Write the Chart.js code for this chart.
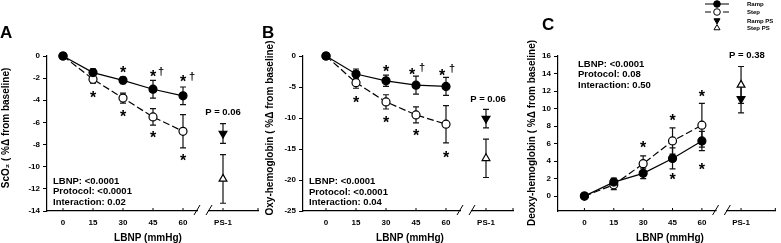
<!DOCTYPE html>
<html><head><meta charset="utf-8">
<script src="https://cdn.jsdelivr.net/npm/chart.js@4.4.0/dist/chart.umd.min.js"></script>
<style>
html,body{margin:0;padding:0;background:#fff;width:781px;height:243px;overflow:hidden}
canvas{position:absolute;left:0;top:0}
</style></head><body>
<canvas id="cA" width="781" height="243"></canvas>
<canvas id="cB" width="781" height="243"></canvas>
<canvas id="cC" width="781" height="243"></canvas>
<script>
// ---------- data ----------
const lbnpLevels = [0, 15, 30, 45, 60];
const psLevel = 80;
const xTickValues = [0, 15, 30, 45, 60, 80];
const xTickLabels = ['0', '15', '30', '45', '60', 'PS-1'];

// Panel A: ScO2
const scoTicks = [0, -2, -4, -6, -8, -10, -12, -14];
const scoRamp = [0, -1.5, -2.2, -3.0, -3.6];
const scoRampErr = [0, 0.35, 0.3, 0.8, 0.8];
const scoStep = [0, -2.1, -3.8, -5.5, -6.8];
const scoStepErr = [0, 0.35, 0.45, 0.75, 1.5];
const scoRampPS = [-7.0];
const scoRampPSErr = [0.9];
const scoStepPS = [-11.1];
const scoStepPSErr = [2.2];
const scoStats = ['LBNP: <0.0001', 'Protocol: <0.0001', 'Interaction: 0.02'];
const scoPText = 'P = 0.06';
const scoPAt = [80, -5.06];
const scoStars = [[30, -1.2], [45, -1.55], [60, -2.0], [15, -3.45], [30, -5.1], [45, -7.05], [60, -9.1]];
const scoDaggers = [[49, -1.42], [64.5, -1.9]];

// Panel B: Oxy-hemoglobin
const oxyTicks = [0, -5, -10, -15, -20, -25];
const oxyRamp = [0, -2.9, -4.0, -4.7, -4.9];
const oxyRampErr = [0, 0.8, 0.9, 1.45, 1.45];
const oxyStep = [0, -4.3, -7.4, -9.5, -11.0];
const oxyStepErr = [0, 0.9, 1.15, 1.3, 3.0];
const oxyRampPS = [-10.1];
const oxyRampPSErr = [1.5];
const oxyStepPS = [-16.5];
const oxyStepPSErr = [3.1];
const oxyStats = ['LBNP: <0.0001', 'Protocol: <0.0001', 'Interaction: 0.04'];
const oxyPText = 'P = 0.06';
const oxyPAt = [81, -6.8];
const oxyStars = [[30, -1.9], [43, -2.42], [58, -2.63], [15, -6.97], [30, -10.1], [45, -12.3], [60, -15.8]];
const oxyDaggers = [[48, -1.98], [63, -2.15]];

// Panel C: Deoxy-hemoglobin
const deoTicks = [0, 2, 4, 6, 8, 10, 12, 14, 16];
const deoRamp = [0, 1.6, 2.6, 4.3, 6.3];
const deoRampErr = [0, 0.45, 0.6, 1.2, 1.1];
const deoStep = [0, 1.3, 3.7, 6.3, 8.1];
const deoStepErr = [0, 0.55, 0.9, 1.5, 2.5];
const deoRampPS = [11.1];
const deoRampPSErr = [1.6];
const deoStepPS = [12.7];
const deoStepPSErr = [2.1];
const deoStats = ['LBNP: <0.0001', 'Protocol: 0.08', 'Interaction: 0.50'];
const deoPText = 'P = 0.38';
const deoPAt = [83, 16.2];
const deoStars = [[30, 6.0], [45, 9.1], [60, 11.8], [45, 2.3], [60, 3.4]];
const deoDaggers = [];

const legendLabels = ['Ramp', 'Step', 'Ramp PS', 'Step PS'];

// ---------- drawing ----------
const FONT = "'Liberation Sans', Arial, sans-serif";
const W = 781, H = 243;

function errBar(ctx, xs, ys, x, y, e) {
  if (!e) return;
  const px = xs.getPixelForValue(x);
  const p1 = ys.getPixelForValue(y + e), p2 = ys.getPixelForValue(y - e);
  ctx.beginPath();
  ctx.moveTo(px, p1); ctx.lineTo(px, p2);
  ctx.moveTo(px - 3, p1); ctx.lineTo(px + 3, p1);
  ctx.moveTo(px - 3, p2); ctx.lineTo(px + 3, p2);
  ctx.stroke();
}

function makePlugin(p) {
  return {
    id: 'panel' + p.letter,
    beforeDatasetsDraw(chart) {
      const ctx = chart.ctx, xs = chart.scales.x, ys = chart.scales.y;
      ctx.save();
      ctx.strokeStyle = '#111'; ctx.lineWidth = 1.2;
      lbnpLevels.forEach((x, i) => {
        errBar(ctx, xs, ys, x, p.ramp[i], p.rampErr[i]);
        errBar(ctx, xs, ys, x, p.step[i], p.stepErr[i]);
      });
      errBar(ctx, xs, ys, psLevel, p.rampPS[0], p.rampPSErr[0]);
      errBar(ctx, xs, ys, psLevel, p.stepPS[0], p.stepPSErr[0]);
      ctx.restore();
    },
    afterDraw(chart) {
      const ctx = chart.ctx, xs = chart.scales.x, ys = chart.scales.y, ca = chart.chartArea;
      ctx.save();
      // inward x ticks
      ctx.strokeStyle = '#000'; ctx.lineWidth = 1;
      const tx = xTickValues.map(v => xs.getPixelForValue(v)).concat([ca.right]);
      tx.forEach(px => { ctx.beginPath(); ctx.moveTo(px, ca.bottom); ctx.lineTo(px, ca.bottom - 3); ctx.stroke(); });
      // axis break
      const b1 = xs.getPixelForValue(67), b2 = xs.getPixelForValue(73);
      ctx.fillStyle = '#fff';
      ctx.fillRect(b1 + 1, ca.bottom - 2, b2 - b1 - 2, 4);
      ctx.strokeStyle = '#000'; ctx.lineWidth = 1;
      [b1, b2].forEach(bx => { ctx.beginPath(); ctx.moveTo(bx - 3, ca.bottom + 4); ctx.lineTo(bx + 3, ca.bottom - 6); ctx.stroke(); });
      ctx.fillStyle = '#000';
      // stars
      ctx.font = 'bold 16px ' + FONT; ctx.textAlign = 'center'; ctx.textBaseline = 'alphabetic';
      p.stars.forEach(s => ctx.fillText('*', xs.getPixelForValue(s[0]), ys.getPixelForValue(s[1]) + 0.57 * 16));
      ctx.font = 'bold 11px ' + FONT;
      p.daggers.forEach(s => ctx.fillText('\u2020', xs.getPixelForValue(s[0]), ys.getPixelForValue(s[1]) + 0.26 * 11));
      // P value
      ctx.font = 'bold 9.5px ' + FONT;
      ctx.fillText(p.pText, xs.getPixelForValue(p.pAt[0]), ys.getPixelForValue(p.pAt[1]) + 0.36 * 9.5);
      // stats
      ctx.textAlign = 'left';
      p.stats.forEach((t, i) => ctx.fillText(t, p.statsX, p.statsY[i]));
      // panel letter
      ctx.font = 'bold 17px ' + FONT;
      ctx.fillText(p.letter, p.letterX, p.letterY);
      // x title
      ctx.font = 'bold 10px ' + FONT; ctx.textAlign = 'center';
      ctx.fillText('LBNP (mmHg)', p.xTitleX, 240.5);
      // y title
      ctx.save();
      ctx.translate(p.yTitleX, p.yTitleY); ctx.rotate(-Math.PI / 2);
      ctx.textBaseline = 'middle';
      ctx.fillText(p.yTitle, 0, 0);
      ctx.restore();
      if (p.legend) drawLegend(ctx);
      ctx.restore();
    }
  };
}

function drawLegend(ctx) {
  const H = Chart.helpers;
  const lx = 717, y0 = [4, 12, 20.5, 28];
  ctx.strokeStyle = '#000'; ctx.lineWidth = 1;
  ctx.beginPath(); ctx.moveTo(705, y0[0]); ctx.lineTo(729, y0[0]); ctx.stroke();
  ctx.beginPath(); ctx.moveTo(705, y0[1]); ctx.lineTo(711, y0[1]); ctx.moveTo(723, y0[1]); ctx.lineTo(729, y0[1]); ctx.stroke();
  ctx.fillStyle = '#000';
  H.drawPoint(ctx, {pointStyle: 'circle', radius: 3.3, borderWidth: 1}, lx, y0[0]);
  ctx.fillStyle = '#fff';
  H.drawPoint(ctx, {pointStyle: 'circle', radius: 3.3, borderWidth: 1}, lx, y0[1]);
  ctx.fillStyle = '#000';
  H.drawPoint(ctx, {pointStyle: 'triangle', rotation: 180, radius: 3.5, borderWidth: 1}, lx, y0[2]);
  ctx.fillStyle = '#fff';
  H.drawPoint(ctx, {pointStyle: 'triangle', radius: 3.5, borderWidth: 1}, lx, y0[3]);
  ctx.fillStyle = '#000';
  ctx.font = 'bold 6px ' + FONT; ctx.textAlign = 'left'; ctx.textBaseline = 'alphabetic';
  legendLabels.forEach((t, i) => ctx.fillText(t, 747, y0[i] + 2.2));
}

function makeChart(id, p) {
  const pts = arr => lbnpLevels.map((x, i) => ({x, y: arr[i]}));
  const tickFont = {family: FONT, size: 8, weight: 'bold'};
  new Chart(document.getElementById(id), {
    type: 'scatter',
    data: {
      datasets: [
        {label: 'Ramp', data: pts(p.ramp), showLine: true, borderColor: '#000', borderWidth: 1.2,
         pointStyle: 'circle', pointRadius: 4, pointBackgroundColor: '#000', pointBorderColor: '#000', pointBorderWidth: 1.2, clip: false},
        {label: 'Step', data: pts(p.step), showLine: true, borderColor: '#000', borderWidth: 1.2, borderDash: [7, 3],
         pointStyle: 'circle', pointRadius: 4, pointBackgroundColor: '#fff', pointBorderColor: '#000', pointBorderWidth: 1.2, clip: false},
        {label: 'Ramp PS', data: [{x: psLevel, y: p.rampPS[0]}], showLine: false,
         pointStyle: 'triangle', pointRotation: 180, pointRadius: 4.5, pointBackgroundColor: '#000', pointBorderColor: '#000', pointBorderWidth: 1.2, clip: false},
        {label: 'Step PS', data: [{x: psLevel, y: p.stepPS[0]}], showLine: false,
         pointStyle: 'triangle', pointRadius: 4.5, pointBackgroundColor: '#fff', pointBorderColor: '#000', pointBorderWidth: 1.2, clip: false}
      ]
    },
    options: {
      responsive: false, animation: false, devicePixelRatio: 1,
      layout: {padding: {left: p.L - 30, right: W - p.R, top: p.T, bottom: 0}},
      plugins: {legend: {display: false}, tooltip: {enabled: false}},
      scales: {
        x: {
          type: 'linear', min: p.xmin, max: p.xmax,
          afterBuildTicks: s => { s.ticks = xTickValues.map(v => ({value: v})); },
          afterFit: s => { s.height = H - p.B; },
          ticks: {font: tickFont, color: '#000', padding: 7, maxRotation: 0, autoSkip: false,
                  callback: v => xTickLabels[xTickValues.indexOf(v)]},
          grid: {display: false, drawTicks: false},
          border: {display: true, color: '#000', width: 1.2}
        },
        y: {
          type: 'linear', min: p.ymin, max: p.ymax,
          afterBuildTicks: s => { s.ticks = p.yTicks.map(v => ({value: v})); },
          afterFit: s => { s.width = 30; },
          ticks: {font: tickFont, color: '#000', padding: 3, autoSkip: false},
          grid: {display: true, drawOnChartArea: false, drawTicks: true, tickLength: 4, color: '#000', lineWidth: 1},
          border: {display: true, color: '#000', width: 1.2}
        }
      }
    },
    plugins: [makePlugin(p)]
  });
}

makeChart('cA', {
  letter: 'A', letterX: 0, letterY: 37.5,
  L: 47, R: 258, T: 56, B: 211, xmin: -8, xmax: 97.5, ymin: -14, ymax: 0, yTicks: scoTicks,
  ramp: scoRamp, rampErr: scoRampErr, step: scoStep, stepErr: scoStepErr,
  rampPS: scoRampPS, rampPSErr: scoRampPSErr, stepPS: scoStepPS, stepPSErr: scoStepPSErr,
  stars: scoStars, daggers: scoDaggers, pText: scoPText, pAt: scoPAt,
  stats: scoStats, statsX: 53, statsY: [183.5, 194, 204.5],
  xTitleX: 148, yTitle: 'ScO\u2082 ( %\u0394 from baseline)', yTitleX: 6, yTitleY: 128
});
makeChart('cB', {
  letter: 'B', letterX: 262, letterY: 37.5,
  L: 303, R: 513, T: 56, B: 211, xmin: -11.5, xmax: 93.5, ymin: -25, ymax: 0, yTicks: oxyTicks,
  ramp: oxyRamp, rampErr: oxyRampErr, step: oxyStep, stepErr: oxyStepErr,
  rampPS: oxyRampPS, rampPSErr: oxyRampPSErr, stepPS: oxyStepPS, stepPSErr: oxyStepPSErr,
  stars: oxyStars, daggers: oxyDaggers, pText: oxyPText, pAt: oxyPAt,
  stats: oxyStats, statsX: 309, statsY: [184, 194.5, 205],
  xTitleX: 410, yTitle: 'Oxy-hemoglobin ( %\u0394 from baseline)', yTitleX: 270, yTitleY: 128
});
makeChart('cC', {
  letter: 'C', letterX: 542, letterY: 30, legend: true,
  L: 558, R: 780, T: 56, B: 211, xmin: -13.5, xmax: 97.5, ymin: -1.7, ymax: 16, yTicks: deoTicks,
  ramp: deoRamp, rampErr: deoRampErr, step: deoStep, stepErr: deoStepErr,
  rampPS: deoRampPS, rampPSErr: deoRampPSErr, stepPS: deoStepPS, stepPSErr: deoStepPSErr,
  stars: deoStars, daggers: deoDaggers, pText: deoPText, pAt: deoPAt,
  stats: deoStats, statsX: 578, statsY: [66.7, 77.3, 87.7],
  xTitleX: 670, yTitle: 'Deoxy-hemoglobin ( %\u0394 from baseline)', yTitleX: 532, yTitleY: 133
});
</script>
</body></html>
